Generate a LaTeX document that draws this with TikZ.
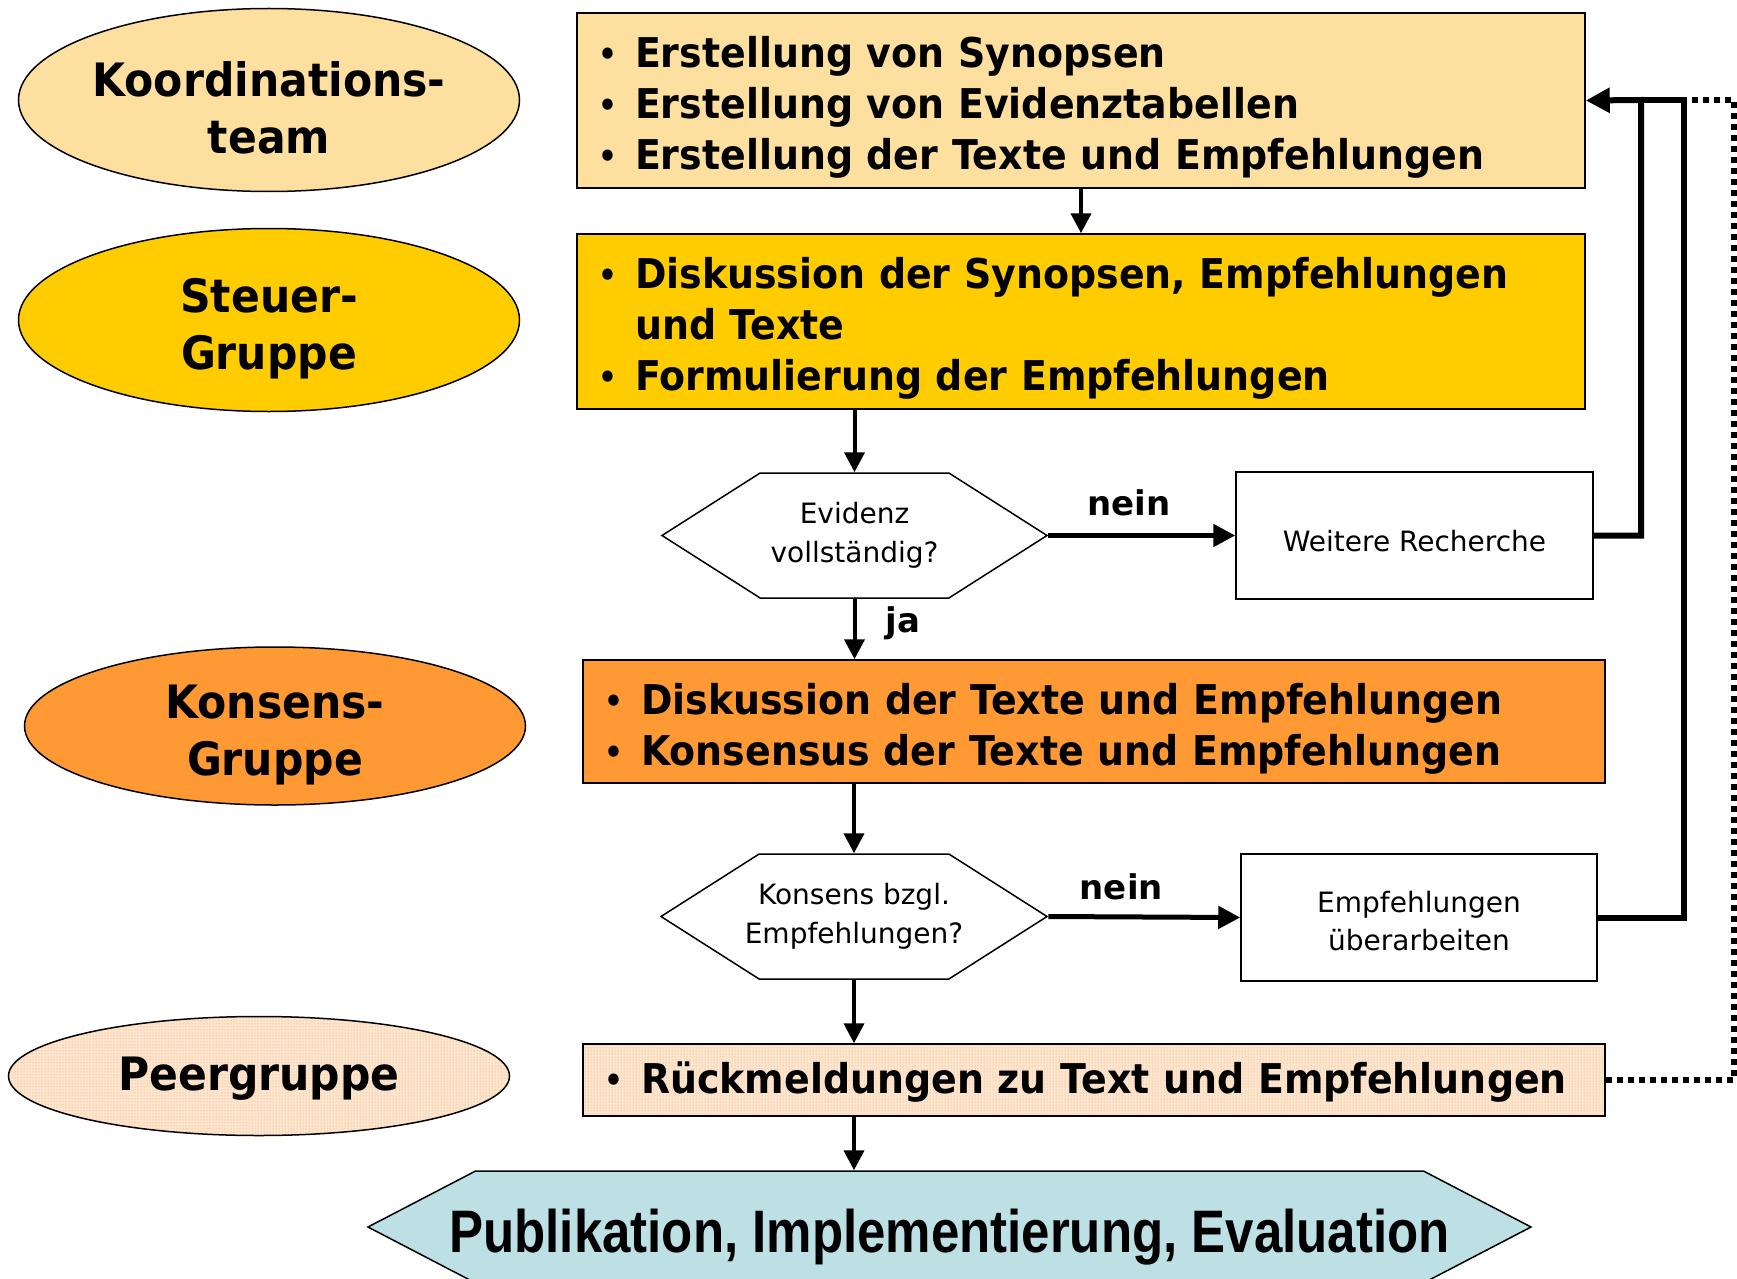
\documentclass[tikz,border=0pt]{standalone}
\usepackage{fontspec}
\setmainfont{DejaVu Sans}
\newfontfamily\boxfont[FakeStretch=0.925]{DejaVu Sans}
\newfontfamily\pubfont[FakeStretch=0.85]{Liberation Sans}
\usetikzlibrary{shapes.geometric,shapes.symbols,arrows.meta,patterns}

\definecolor{koordfill}{RGB}{253,223,160}
\definecolor{steuerfill}{RGB}{255,204,0}
\definecolor{konsensfill}{RGB}{255,153,51}
\definecolor{peerfill}{RGB}{253,230,208}
\definecolor{peerdot}{RGB}{248,160,85}
\definecolor{pubfill}{RGB}{189,224,228}

% small bullet, hanging
\newcommand{\bul}[1]{\makebox[40pt][l]{\hspace{3pt}\raisebox{2pt}{\fontsize{32}{32}\selectfont\textbullet}}#1}
% taller first line, pushes the text block down
\newcommand{\lift}[1]{\rule{0pt}{#1}}

\begin{document}
\begin{tikzpicture}[x=1pt,y=-1pt,
  grp/.style={ellipse, draw, line width=1.5pt, minimum width=501pt, inner xsep=0pt,
    inner ysep=-8pt, align=center, font=\boxfont\bfseries\fontsize{46}{57}\selectfont},
  task/.style={draw, line width=1.5pt, align=left, inner xsep=18pt, inner ysep=0pt,
    font=\boxfont\bfseries\fontsize{41}{51}\selectfont},
  ask/.style={signal, signal to=east and west, signal pointer angle=65, draw,
    line width=1.5pt, fill=white, inner sep=0pt, align=center,
    font=\fontsize{28}{39}\selectfont},
  note/.style={draw, line width=1.5pt, fill=white, align=center,
    font=\fontsize{28}{38}\selectfont},
  lbl/.style={font=\bfseries\fontsize{34}{34}\selectfont},
  flow/.style={line width=4pt, -{Triangle[length=20pt,width=20pt]}},
  choice/.style={line width=5pt, -{Triangle[length=22pt,width=22pt]}},
  back/.style={line width=6pt, line join=miter},
  peerlink/.style={line width=6pt, dash pattern=on 6pt off 5pt}]

\useasboundingbox (0,0) rectangle (1737,1279);
\clip (0,0) rectangle (1737,1279);

% groups on the left
\node[grp, fill=koordfill, minimum height=183pt] (koord) at (269,100) {\lift{51pt}Koordinations-\\team};
\node[grp, fill=steuerfill, minimum height=183pt] (steuer) at (269,320) {\lift{51pt}Steuer-\\Gruppe};
\node[grp, fill=konsensfill, minimum height=158pt] (konsens) at (275,726) {\lift{51pt}Konsens-\\Gruppe};
\node[grp, preaction={fill=peerfill}, pattern=dots, pattern color=peerdot,
  minimum height=119pt] (peer) at (259,1076) {\lift{39pt}Peergruppe};

% tasks of the groups
\node[task, fill=koordfill, text width=972pt, minimum height=175pt] (erstellung) at (1081,100.5)
  {\lift{45pt}\bul{Erstellung von Synopsen}\\\bul{Erstellung von Evidenztabellen}\\\bul{Erstellung der Texte und Empfehlungen}};
\node[task, fill=steuerfill, text width=972pt, minimum height=175pt] (diskussion) at (1081,321.5)
  {\lift{45pt}\bul{Diskussion der Synopsen, Empfehlungen}\\\hspace*{40pt}und Texte\\\bul{Formulierung der Empfehlungen}};
\node[task, fill=konsensfill, text width=986pt, minimum height=123pt] (konsensus) at (1094,721.5)
  {\lift{45pt}\bul{Diskussion der Texte und Empfehlungen}\\\bul{Konsensus der Texte und Empfehlungen}};
\node[task, preaction={fill=peerfill}, pattern=dots, pattern color=peerdot,
  text width=986pt, minimum height=72pt] (rueck) at (1094,1080)
  {\lift{36pt}\bul{Rückmeldungen zu Text und Empfehlungen}};

% decisions
\node[ask, minimum width=385pt, minimum height=125pt] (evidenz) at (854.5,535.5)
  {\makebox[0pt]{Evidenz}\\\makebox[0pt]{vollständig?}};
\node[ask, minimum width=386pt, minimum height=125pt] (konsfrage) at (854,916.5)
  {\makebox[0pt]{Konsens bzgl.}\\\makebox[0pt]{Empfehlungen?}};
\node[note, minimum width=357pt, minimum height=127pt] (recherche) at (1414.5,535.5)
  {\lift{32pt}Weitere Recherche};
\node[note, minimum width=356pt, minimum height=127pt] (ueberarb) at (1419,917.5)
  {\lift{28pt}Empfehlungen\\überarbeiten};

% result
\node[signal, signal to=east and west, signal pointer angle=55, draw, line width=1.5pt,
  fill=pubfill, inner sep=0pt, minimum width=1163pt, minimum height=112pt,
  font=\pubfont\bfseries\fontsize{60}{60}\selectfont] (publikation) at (949.5,1227)
  {\makebox[0pt]{\lift{64pt}Publikation, Implementierung, Evaluation}};

% main flow
\draw[flow] (erstellung) -- (diskussion);
\draw[flow] (diskussion.south -| evidenz.north) -- (evidenz.north);
\draw[flow] (evidenz.south) -- node[lbl, right=26pt, pos=0.4] (ja) {ja} (evidenz.south |- konsensus.north);
\draw[flow] (konsensus.south -| konsfrage.north) -- (konsfrage.north);
\draw[flow] (konsfrage.south) -- (konsfrage.south |- rueck.north);
\draw[flow] (rueck.south -| konsfrage.south) -- (konsfrage.south |- publikation.north);

% nein branches
\draw[choice] (evidenz.east) -- node[lbl, above=14pt, pos=0.43] (nein1) {nein} (recherche.west);
\draw[choice] (konsfrage.east) -- node[lbl, above=11pt, pos=0.38] (nein2) {nein} (ueberarb.west);

% feedback loops
\coordinate (loopa) at (1641,100);
\coordinate (loopb) at (1684,100);
\coordinate (loopc) at (1734,100);
\draw[back, -{Triangle[length=24pt,width=24pt]}] (recherche.east) -| (loopa) -- (erstellung.east);
\draw[back] (ueberarb.east) -| (loopb) -- (loopa);
\draw[peerlink] (rueck.east) -| (loopc) -- (loopb);

\end{tikzpicture}
\end{document}
